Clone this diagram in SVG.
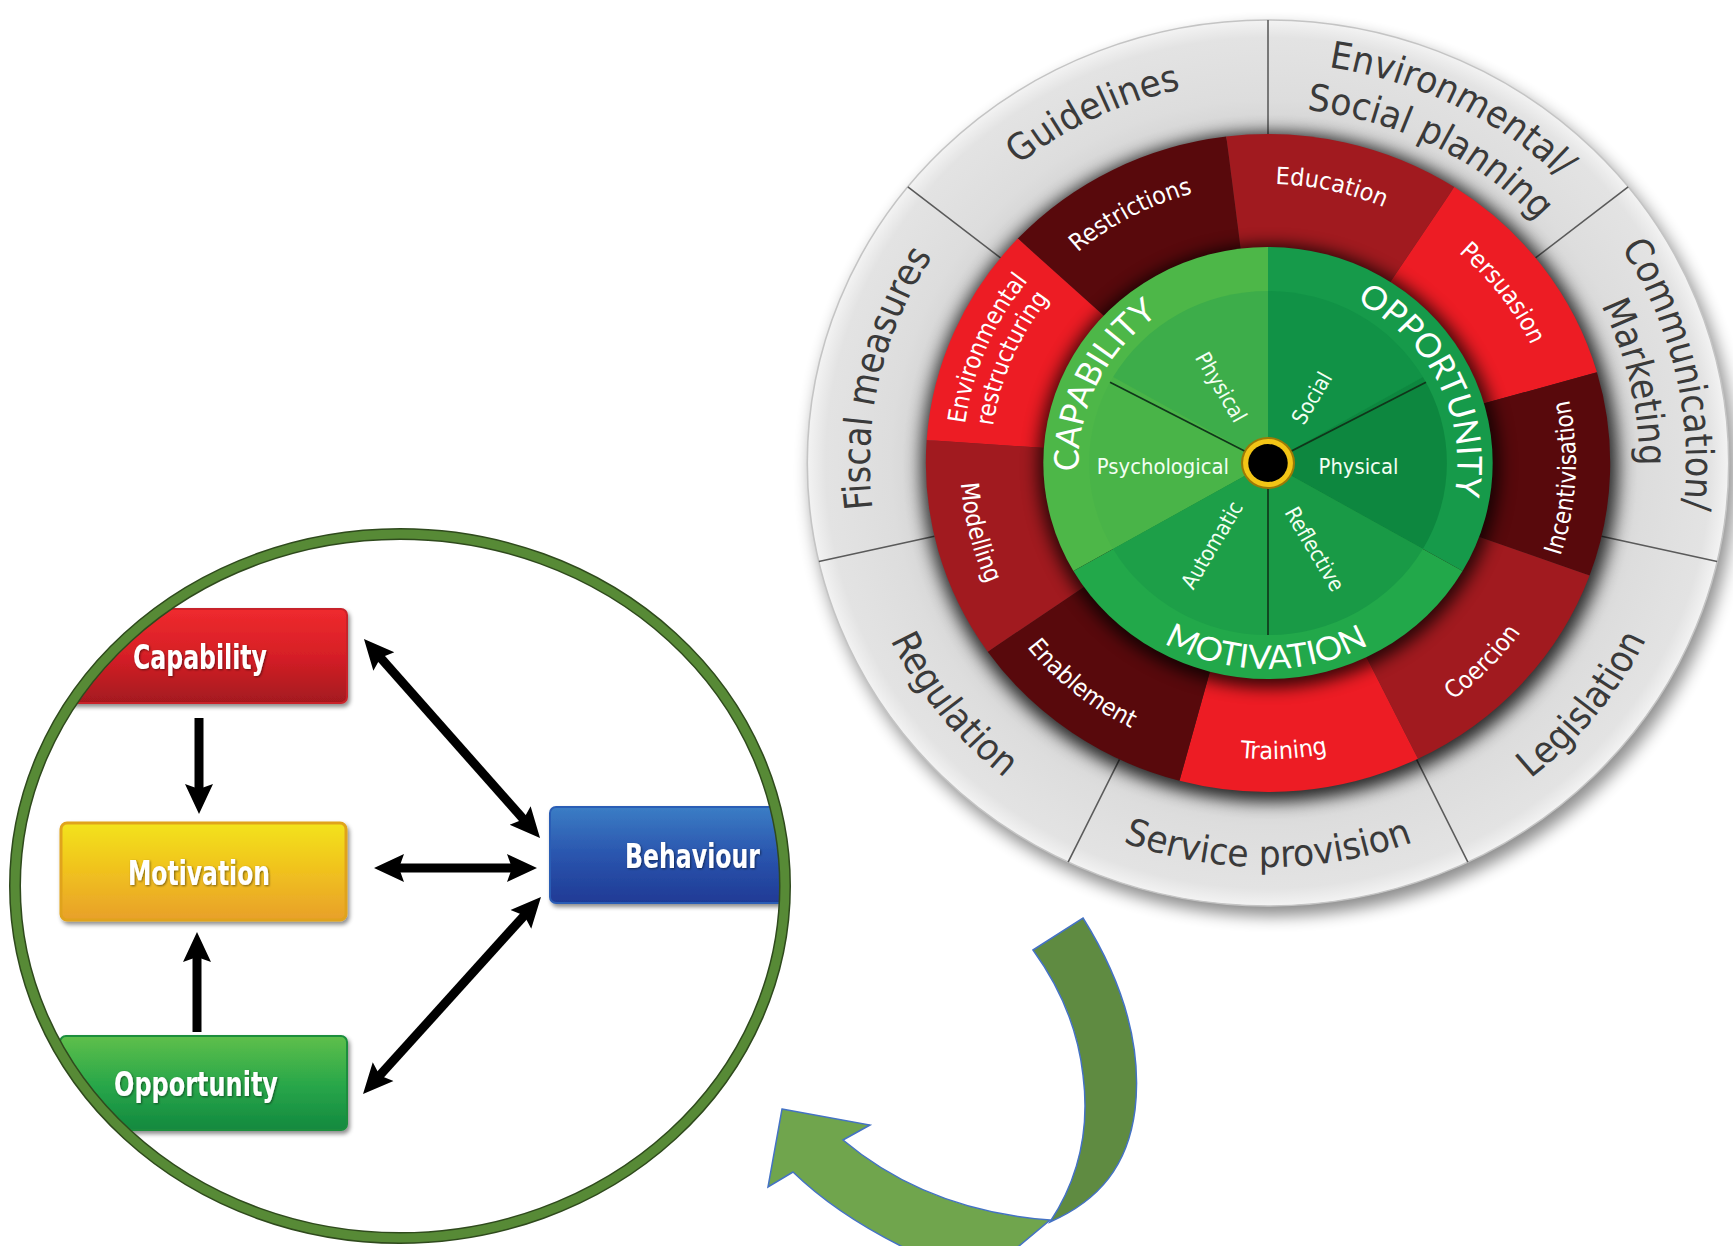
<svg xmlns="http://www.w3.org/2000/svg" width="1733" height="1246" viewBox="0 0 1733 1246">
<style>
.outer{font-family:"DejaVu Sans Condensed","DejaVu Sans",sans-serif;font-size:37px;fill:#3a3a3a}
.red{font-family:"DejaVu Sans Condensed","DejaVu Sans",sans-serif;font-size:24px;fill:#ffffff}
.big{font-family:Lato,"DejaVu Sans",sans-serif;font-weight:400;font-size:33px;fill:#ffffff}
.inner{font-family:"DejaVu Sans Condensed","DejaVu Sans",sans-serif;font-size:21px;fill:#f2fff2}
.box{font-family:"DejaVu Sans Condensed","DejaVu Sans",sans-serif;font-weight:bold;font-size:34px;fill:#ffffff}
.div{stroke:#5a5a5a;stroke-width:1.5}
.conn{stroke:#000;stroke-width:9;fill:none}
.band{stroke:#4472c4;stroke-width:1.5}
</style>
<defs>
<filter id="blur8" x="-20%" y="-20%" width="140%" height="140%"><feGaussianBlur stdDeviation="8"/></filter>
<filter id="boxsh" x="-10%" y="-20%" width="130%" height="150%"><feDropShadow dx="2" dy="3" stdDeviation="2" flood-color="#000" flood-opacity="0.45"/></filter>
<filter id="txsh" x="-10%" y="-20%" width="130%" height="150%"><feDropShadow dx="1" dy="1" stdDeviation="1" flood-color="#000" flood-opacity="0.5"/></filter>
<radialGradient id="greyGrad" gradientUnits="userSpaceOnUse" cx="0" cy="0" r="443">
<stop offset="0.74" stop-color="#d2d2d2"/><stop offset="0.82" stop-color="#dddddd"/><stop offset="0.96" stop-color="#e3e3e3"/><stop offset="1" stop-color="#f3f3f3"/>
</radialGradient>
<linearGradient id="gCap" x1="0" y1="0" x2="0" y2="1"><stop offset="0" stop-color="#ef2a2e"/><stop offset="0.5" stop-color="#d61f26"/><stop offset="1" stop-color="#a3191f"/></linearGradient>
<linearGradient id="gMot" x1="0" y1="0" x2="0" y2="1"><stop offset="0" stop-color="#f3e31a"/><stop offset="0.5" stop-color="#f0c11f"/><stop offset="1" stop-color="#e8a02a"/></linearGradient>
<linearGradient id="gOpp" x1="0" y1="0" x2="0" y2="1"><stop offset="0" stop-color="#5fbf4b"/><stop offset="0.5" stop-color="#2aa84a"/><stop offset="1" stop-color="#12893f"/></linearGradient>
<linearGradient id="gBeh" x1="0" y1="0" x2="0" y2="1"><stop offset="0" stop-color="#3b7dc5"/><stop offset="0.5" stop-color="#2a55ae"/><stop offset="1" stop-color="#1f3a95"/></linearGradient>
<clipPath id="inCircle"><ellipse cx="400" cy="886" rx="380" ry="347"/></clipPath>
<marker id="ah" markerUnits="userSpaceOnUse" markerWidth="30" markerHeight="30" viewBox="0 0 30 30" refX="12" refY="15" orient="auto-start-reverse"><path d="M0,1 L30,15 L0,29 L5,15 Z" fill="#000"/></marker>
<path id="pGuid" d="M-378.0,-61.9 A383,383 0 0 1 187.4,-334.0"/>
<path id="pEnv1" d="M-220.8,-333.6 A400,400 0 0 1 399.2,-24.4"/>
<path id="pEnv2" d="M-195.9,-296.0 A355,355 0 0 1 354.3,-21.7"/>
<path id="pCom1" d="M118.2,-384.2 A402,402 0 0 1 273.6,294.5"/>
<path id="pCom2" d="M105.0,-341.2 A357,357 0 0 1 243.0,261.5"/>
<path id="pLeg" d="M-25.4,403.2 A404,404 0 0 0 387.6,-114.1"/>
<path id="pServ" d="M-349.9,202 A404,404 0 0 0 349.9,202"/>
<path id="pReg" d="M-387.6,-114.1 A404,404 0 0 0 25.4,403.2"/>
<path id="pFisc" d="M-260.7,280.5 A383,383 0 0 1 -112.6,-366.1"/>
<path id="pRestr" d="M-266.8,-81.6 A279,279 0 0 1 81.6,-266.8"/>
<path id="pEdu" d="M-149.9,-235.3 A279,279 0 0 1 235.3,-149.9"/>
<path id="pPers" d="M38.8,-276.3 A279,279 0 0 1 276.3,38.8"/>
<path id="pEnvR1" d="M-272.6,110.1 A294,294 0 0 1 -110.1,-272.6"/>
<path id="pEnvR2" d="M-247.6,100.0 A267,267 0 0 1 -100.0,-247.6"/>
<path id="pInc" d="M198.1,220.0 A296,296 0 0 0 220.0,-198.1"/>
<path id="pCoer" d="M5.2,296.0 A296,296 0 0 0 296.0,-5.2"/>
<path id="pTrain" d="M-198.1,220.0 A296,296 0 0 0 220.0,198.1"/>
<path id="pEnab" d="M-294.4,30.9 A296,296 0 0 0 30.9,294.4"/>
<path id="pMod" d="M-253.7,-152.4 A296,296 0 0 0 -152.4,253.7"/>
<path id="pCapL" d="M-150.9,101.8 A182,182 0 0 1 -12.7,-181.6"/>
<path id="pOppL" d="M12.7,-181.6 A182,182 0 0 1 150.9,101.8"/>
<path id="pMotL" d="M-179.3,101.4 A206,206 0 0 0 177.5,104.5"/>
</defs>

<rect width="1733" height="1246" fill="#ffffff"/>

<g id="wheel" transform="translate(1268 463) scale(1.04 1)">
  <circle r="444" cx="5" cy="9" fill="#000" opacity="0.45" filter="url(#blur8)"/>
  <g id="ring-policies">
    <circle r="443" fill="url(#greyGrad)" stroke="#c4c4c4" stroke-width="1.5"/>
    <line class="div" x1="0" y1="-329" x2="0" y2="-443"/>
    <line class="div" x1="257.2" y1="-205.1" x2="346.3" y2="-276.2"/>
    <line class="div" x1="320.7" y1="73.2" x2="431.9" y2="98.6"/>
    <line class="div" x1="142.8" y1="296.4" x2="192.2" y2="399.1"/>
    <line class="div" x1="-142.8" y1="296.4" x2="-192.2" y2="399.1"/>
    <line class="div" x1="-320.7" y1="73.2" x2="-431.9" y2="98.6"/>
    <line class="div" x1="-257.2" y1="-205.1" x2="-346.3" y2="-276.2"/>
    <g id="p-guidelines"><text class="outer"><textPath href="#pGuid" startOffset="50%" text-anchor="middle">Guidelines</textPath></text></g>
    <g id="p-envsocial"><text class="outer"><textPath href="#pEnv1" startOffset="50%" text-anchor="middle">Environmental/</textPath></text><text class="outer"><textPath href="#pEnv2" startOffset="50%" text-anchor="middle">Social planning</textPath></text></g>
    <g id="p-communication"><text class="outer"><textPath href="#pCom1" startOffset="50%" text-anchor="middle">Communication/</textPath></text><text class="outer"><textPath href="#pCom2" startOffset="50%" text-anchor="middle">Marketing</textPath></text></g>
    <g id="p-legislation"><text class="outer"><textPath href="#pLeg" startOffset="50%" text-anchor="middle">Legislation</textPath></text></g>
    <g id="p-service"><text class="outer"><textPath href="#pServ" startOffset="50%" text-anchor="middle">Service provision</textPath></text></g>
    <g id="p-regulation"><text class="outer"><textPath href="#pReg" startOffset="50%" text-anchor="middle">Regulation</textPath></text></g>
    <g id="p-fiscal"><text class="outer"><textPath href="#pFisc" startOffset="50%" text-anchor="middle">Fiscal measures</textPath></text></g>
  </g>
  <circle r="335" cx="2" cy="4" fill="#000" opacity="0.8" filter="url(#blur8)"/>
  <g id="ring-interventions">
    <g id="i-restrictions"><path d="M0,0 L-240.6,-224.4 A329,329 0 0 1 -40.1,-326.5 Z" fill="#58090c"/><text class="red"><textPath href="#pRestr" startOffset="50%" text-anchor="middle">Restrictions</textPath></text></g>
    <g id="i-education"><path d="M0,0 L-40.1,-326.5 A329,329 0 0 1 179.2,-275.9 Z" fill="#a11a1f"/><text class="red"><textPath href="#pEdu" startOffset="50%" text-anchor="middle">Education</textPath></text></g>
    <g id="i-persuasion"><path d="M0,0 L179.2,-275.9 A329,329 0 0 1 316.3,-90.7 Z" fill="#ed1c24"/><text class="red"><textPath href="#pPers" startOffset="50%" text-anchor="middle">Persuasion</textPath></text></g>
    <g id="i-incentivisation"><path d="M0,0 L316.3,-90.7 A329,329 0 0 1 309.2,112.5 Z" fill="#58090c"/><text class="red"><textPath href="#pInc" startOffset="50%" text-anchor="middle">Incentivisation</textPath></text></g>
    <g id="i-coercion"><path d="M0,0 L309.2,112.5 A329,329 0 0 1 144.2,295.7 Z" fill="#a11a1f"/><text class="red"><textPath href="#pCoer" startOffset="50%" text-anchor="middle">Coercion</textPath></text></g>
    <g id="i-training"><path d="M0,0 L144.2,295.7 A329,329 0 0 1 -85.1,317.8 Z" fill="#ed1c24"/><text class="red"><textPath href="#pTrain" startOffset="50%" text-anchor="middle">Training</textPath></text></g>
    <g id="i-enablement"><path d="M0,0 L-85.1,317.8 A329,329 0 0 1 -269.5,188.7 Z" fill="#58090c"/><text class="red"><textPath href="#pEnab" startOffset="50%" text-anchor="middle">Enablement</textPath></text></g>
    <g id="i-modelling"><path d="M0,0 L-269.5,188.7 A329,329 0 0 1 -328.2,-23.0 Z" fill="#a11a1f"/><text class="red"><textPath href="#pMod" startOffset="50%" text-anchor="middle">Modelling</textPath></text></g>
    <g id="i-envrestructuring"><path d="M0,0 L-328.2,-23.0 A329,329 0 0 1 -240.6,-224.4 Z" fill="#ed1c24"/><text class="red"><textPath href="#pEnvR1" startOffset="50%" text-anchor="middle">Environmental</textPath></text><text class="red"><textPath href="#pEnvR2" startOffset="50%" text-anchor="middle">restructuring</textPath></text></g>
  </g>
  <circle r="222" cx="1" cy="3" fill="#000" opacity="0.75" filter="url(#blur8)"/>
  <g id="ring-com">
    <g id="c-capability">
      <path d="M0,0 L-187.1,108 A216,216 0 0 1 0,-216 Z" fill="#4db748"/>
      <path d="M0,0 L-148.96,86 A172,172 0 0 1 -148.96,-86 Z" fill="#49b448"/>
      <path d="M0,0 L-148.96,-86 A172,172 0 0 1 0,-172 Z" fill="#3dad4a"/>
      <text class="big"><textPath href="#pCapL" startOffset="50%" text-anchor="middle">CAPABILITY</textPath></text>
      <text class="inner" x="-101" y="4" text-anchor="middle" dominant-baseline="central">Psychological</text>
      <text class="inner" transform="translate(-45 -76) rotate(60)" text-anchor="middle" dominant-baseline="central">Physical</text>
    </g>
    <g id="c-opportunity">
      <path d="M0,0 L0,-216 A216,216 0 0 1 187.1,108 Z" fill="#169a4a"/>
      <path d="M0,0 L0,-172 A172,172 0 0 1 148.96,-86 Z" fill="#119246"/>
      <path d="M0,0 L148.96,-86 A172,172 0 0 1 148.96,86 Z" fill="#0d873f"/>
      <text class="big"><textPath href="#pOppL" startOffset="50%" text-anchor="middle">OPPORTUNITY</textPath></text>
      <text class="inner" transform="translate(42 -65) rotate(-60)" text-anchor="middle" dominant-baseline="central">Social</text>
      <text class="inner" x="87" y="4" text-anchor="middle" dominant-baseline="central">Physical</text>
    </g>
    <g id="c-motivation">
      <path d="M0,0 L187.1,108 A216,216 0 0 1 -187.1,108 Z" fill="#22a84a"/>
      <path d="M0,0 L148.96,86 A172,172 0 0 1 0,172 Z" fill="#199a46"/>
      <path d="M0,0 L0,172 A172,172 0 0 1 -148.96,86 Z" fill="#1d9f48"/>
      <text class="big"><textPath href="#pMotL" startOffset="50%" text-anchor="middle">MOTIVATION</textPath></text>
      <text class="inner" transform="translate(-54 82) rotate(-60)" text-anchor="middle" dominant-baseline="central">Automatic</text>
      <text class="inner" transform="translate(45 86) rotate(60)" text-anchor="middle" dominant-baseline="central">Reflective</text>
    </g>
    <line x1="0" y1="0" x2="151.9" y2="-80.8" stroke="#10361a" stroke-width="1.6"/>
    <line x1="0" y1="0" x2="-151.9" y2="-80.8" stroke="#10361a" stroke-width="1.6"/>
    <line x1="0" y1="0" x2="0" y2="172" stroke="#10361a" stroke-width="1.6"/>
    <circle r="26" fill="#9c7a06"/>
    <circle r="24" fill="#f3c516"/>
    <circle r="19" fill="#000"/>
  </g>
</g>

<g id="comb">
  <g clip-path="url(#inCircle)">
    <g id="n-capability"><rect x="60" y="609" width="287" height="94" rx="6" fill="url(#gCap)" stroke="#c82329" stroke-width="2" filter="url(#boxsh)"/><text class="box" x="133" y="669" textLength="134" lengthAdjust="spacingAndGlyphs" filter="url(#txsh)">Capability</text></g>
    <g id="n-motivation"><rect x="61" y="823" width="285" height="97" rx="6" fill="url(#gMot)" stroke="#e0a31c" stroke-width="3" filter="url(#boxsh)"/><text class="box" x="128" y="885" textLength="142" lengthAdjust="spacingAndGlyphs" filter="url(#txsh)">Motivation</text></g>
    <g id="n-opportunity"><rect x="60" y="1036" width="287" height="94" rx="6" fill="url(#gOpp)" stroke="#1b8e3e" stroke-width="2" filter="url(#boxsh)"/><text class="box" x="114" y="1096" textLength="164" lengthAdjust="spacingAndGlyphs" filter="url(#txsh)">Opportunity</text></g>
    <g id="n-behaviour"><rect x="550" y="807" width="300" height="96" rx="6" fill="url(#gBeh)" stroke="#2b5db5" stroke-width="2" filter="url(#boxsh)"/><text class="box" x="625" y="868" textLength="135" lengthAdjust="spacingAndGlyphs" filter="url(#txsh)">Behaviour</text></g>
  </g>
  <g id="connectors">
    <line class="conn" x1="199" y1="718" x2="199" y2="796" marker-end="url(#ah)"/>
    <line class="conn" x1="197" y1="1032" x2="197" y2="950" marker-end="url(#ah)"/>
    <line class="conn" x1="375.9" y1="652.5" x2="528.1" y2="824.5" marker-start="url(#ah)" marker-end="url(#ah)"/>
    <line class="conn" x1="392" y1="868" x2="519" y2="868" marker-start="url(#ah)" marker-end="url(#ah)"/>
    <line class="conn" x1="375.1" y1="1080.6" x2="528.9" y2="910.4" marker-start="url(#ah)" marker-end="url(#ah)"/>
  </g>
  <g id="frame">
    <ellipse cx="400" cy="886" rx="385" ry="352" fill="none" stroke="#2f4a1d" stroke-width="12"/>
    <ellipse cx="400" cy="886" rx="385" ry="352" fill="none" stroke="#578a36" stroke-width="9"/>
  </g>
</g>

<g id="curved-arrow">
  <path class="band" d="M1033,950 L1083,918 C1125,985 1142,1050 1135,1110 C1128,1165 1100,1200 1050,1222 C1078,1180 1090,1130 1083,1075 C1078,1030 1062,990 1033,950 Z" fill="#5f8b41"/>
  <path class="band" d="M782,1109 L870,1125 L843,1140 C900,1188 970,1214 1050,1220 L1000,1262 L935,1262 C880,1238 830,1208 793,1172 L768,1187 Z" fill="#70a54d"/>
</g>
</svg>
